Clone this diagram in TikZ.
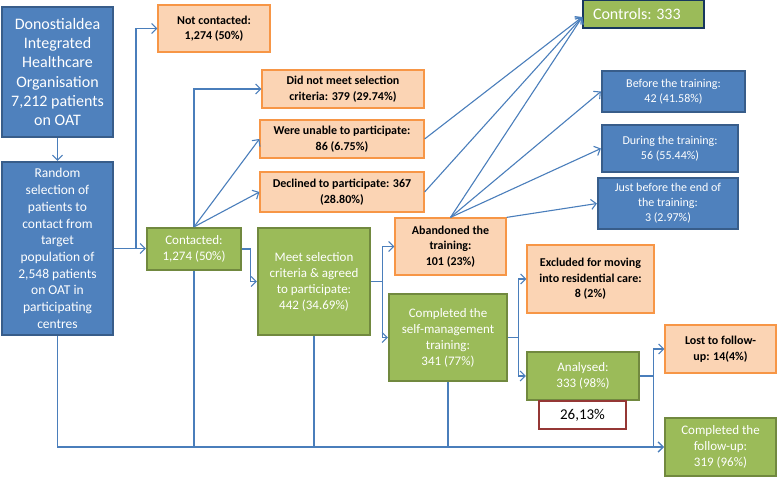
\documentclass[tikz,border=0pt]{standalone}
\usepackage{fontspec}
\setmainfont{Carlito}
\usepackage{xcolor}
\usepackage{tikz}
\usetikzlibrary{arrows.meta}

\definecolor{bluefill}{HTML}{4F81BD}
\definecolor{blueline}{HTML}{385D8A}
\definecolor{greenfill}{HTML}{9BBB59}
\definecolor{greenline}{HTML}{71893F}
\definecolor{orangefill}{HTML}{FBD4B4}
\definecolor{orangeline}{HTML}{F79646}
\definecolor{flowline}{HTML}{4A7EBB}
\definecolor{navyline}{HTML}{17375E}
\definecolor{redline}{HTML}{953735}

\begin{document}
\begin{tikzpicture}[x=1pt, y=-1pt,
    bluebox/.style={draw=blueline, line width=2.2pt, fill=bluefill, text=white, align=center, inner sep=0pt},
    greenbox/.style={draw=greenline, line width=2.2pt, fill=greenfill, text=white, align=center, inner sep=0pt, font=\fontsize{13}{16}\selectfont},
    orangebox/.style={draw=orangeline, line width=1.2pt, fill=orangefill, text=black, align=center, inner sep=0pt, font=\bfseries\fontsize{12}{15.5}\selectfont},
    flow/.style={draw=flowline, line width=1.1pt},
    arr/.style={flow, -{Straight Barb[length=5pt, width=10pt]}}]
\useasboundingbox (0,0) rectangle (780,478);

% Population
\node[bluebox, minimum width=111pt, minimum height=130pt, font=\fontsize{16}{19.3}\selectfont] (donost) at (57.5,72)
    {Donostialdea\\Integrated\\Healthcare\\Organisation\\7,212 patients\\on OAT};
\node[bluebox, minimum width=111pt, minimum height=173pt, font=\fontsize{13.5}{16.7}\selectfont] (random) at (57.5,248.5)
    {Random\\selection of\\patients to\\contact from\\target\\population of\\2,548 patients\\on OAT in\\participating\\centres};

% Contact
\node[orangebox, minimum width=112pt, minimum height=47pt] (notcont) at (214,28.5) {Not contacted:\\1,274 (50\%)};
\node[greenbox, minimum width=94pt, minimum height=42pt] (contacted) at (194,249) {Contacted:\\1,274 (50\%)};
\node[orangebox, minimum width=162pt, minimum height=38pt] (didnot) at (343,89) {Did not meet selection\\criteria: 379 (29.74\%)};
\node[orangebox, minimum width=164pt, minimum height=38pt] (unable) at (342,139) {Were unable to participate:\\86 (6.75\%)};
\node[orangebox, minimum width=164pt, minimum height=40pt] (declined) at (342,192) {Declined to participate: 367\\(28.80\%)};
\node[greenbox, minimum width=112pt, minimum height=107pt] (meet) at (314,281.5) {Meet selection\\criteria \& agreed\\to participate:\\442 (34.69\%)};

% Training
\node[orangebox, minimum width=111pt, minimum height=57pt] (abandoned) at (450.5,246.5) {Abandoned the\\training:\\101 (23\%)};
\node[greenbox, minimum width=118pt, minimum height=87pt] (completed) at (448,337.5) {Completed the\\self-management\\training:\\341 (77\%)};
\node[orangebox, minimum width=127pt, minimum height=68pt] (excluded) at (590.5,279) {Excluded for moving\\into residential care:\\8 (2\%)};
\node[greenbox, minimum width=112pt, minimum height=48pt] (analysed) at (583,376) {Analysed:\\333 (98\%)};
\node[draw=redline, line width=2.5pt, fill=white, minimum width=87pt, minimum height=28pt, inner sep=0pt, font=\fontsize{15}{18}\selectfont] (pct) at (582.5,415) {26,13\%};

% Controls and drop-outs
\node[draw=navyline, line width=1.4pt, fill=greenfill, text=white, text width=101pt, align=flush left, inner xsep=10pt, minimum height=28pt, inner ysep=0pt, font=\fontsize{16}{19}\selectfont] (controls) at (643.5,14) {Controls: 333};
\node[bluebox, minimum width=143pt, minimum height=41pt, font=\fontsize{12}{15}\selectfont] (before) at (673.5,91.5) {Before the training:\\42 (41.58\%)};
\node[bluebox, minimum width=136pt, minimum height=47pt, font=\fontsize{12}{15}\selectfont] (during) at (670,148.5) {During the training:\\56 (55.44\%)};
\node[bluebox, minimum width=140pt, minimum height=51pt, font=\fontsize{12}{15}\selectfont] (justbefore) at (668,203.5) {Just before the end of\\the training:\\3 (2.97\%)};

% Follow-up
\node[orangebox, minimum width=111pt, minimum height=48pt] (lost) at (720.5,349) {Lost to follow-\\up: 14(4\%)};
\node[greenbox, minimum width=111pt, minimum height=58pt] (compfollow) at (720.5,447) {Completed the\\follow-up:\\319 (96\%)};

% Connectors
\coordinate (split) at (136,248.5);
\draw[arr] (donost) -- (random);
\draw[arr] (random.east |- split) -- (contacted.west |- split);
\draw[arr] (split) |- (notcont.west);
\draw[arr] (contacted.north) |- (didnot.west);
\draw[arr] (contacted.north) -- (unable.west);
\draw[arr] (contacted.north) -- (declined.west);
\draw[arr] (contacted.east) -- ++(8,0) |- (meet.west);
\draw[arr] (meet.east) -- ++(11,0) |- (abandoned.west);
\draw[arr] (meet.east) -- ++(11,0) |- (completed.west);
\draw[arr] (completed.east) -- ++(10,0) |- (excluded.west);
\draw[arr] (completed.east) -- ++(10,0) |- (analysed.west);
\draw[arr] (analysed.east) -- ++(13,0) |- (lost.west);
\draw[arr] (analysed.east) -- ++(13,0) |- (compfollow.west);

% To controls and drop-outs
\draw[arr] (unable.east) -- ([yshift=-3pt]controls.west);
\draw[arr] (declined.east) -- ([yshift=-3pt]controls.west);
\draw[arr] (abandoned.north) -- ([yshift=-3pt]controls.west);
\draw[arr] (abandoned.north) -- (before.west);
\draw[arr] (abandoned.north) -- (during.west);
\draw[arr] (abandoned.north east) -- (justbefore.west);

% Bottom line
\draw[arr] (random.south) |- (compfollow.west);
\draw[flow] (contacted.south) -- (contacted.south |- compfollow.west);
\draw[flow] (meet.south) -- (meet.south |- compfollow.west);
\draw[flow] (completed.south) -- (completed.south |- compfollow.west);
\end{tikzpicture}
\end{document}
